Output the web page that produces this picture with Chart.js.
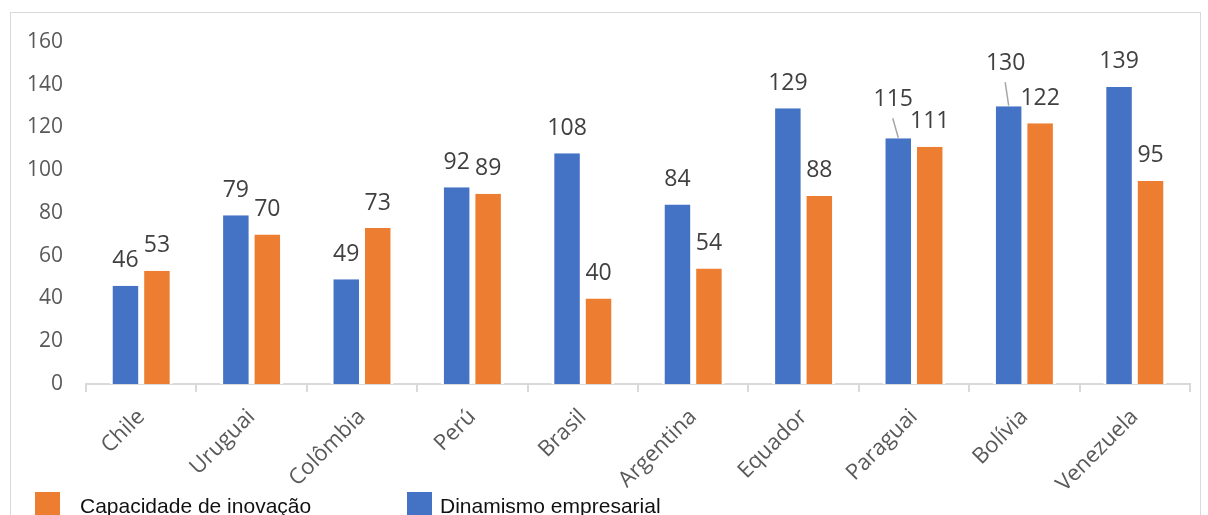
<!DOCTYPE html>
<html lang="pt">
<head>
<meta charset="utf-8">
<title>Dinamismo empresarial e capacidade de inovação</title>
<script src="https://cdn.jsdelivr.net/npm/chart.js@4.4.0/dist/chart.umd.min.js"></script>
<style>
    html, body {
        margin: 0;
        padding: 0;
        width: 1208px;
        height: 515px;
        overflow: hidden;
        background: #fff;
    }
    .frame {
        position: absolute;
        left: 10px;
        top: 12px;
        width: 1189px;
        height: 600px;
        border: 1px solid #d9d9d9;
    }
    .chart-box {
        position: absolute;
        left: 0;
        top: 0;
        width: 1208px;
        height: 515px;
    }
    .legend {
        position: absolute;
        top: 492px;
        font-family: "Liberation Sans", Arial, sans-serif;
        font-size: 21px;
        color: #111;
        white-space: nowrap;
    }
    .legend .swatch {
        position: absolute;
        left: 0;
        top: 0;
        width: 25px;
        height: 25px;
    }
    .legend .text {
        position: absolute;
        top: 2px;
    }
</style>
</head>
<body>
<div class="frame"></div>
<div class="chart-box"><canvas id="chart" width="1208" height="515"></canvas></div>
<div class="legend" style="left:35px"><span class="swatch" style="background:#ED7D31"></span><span class="text" style="left:45px">Capacidade de inovação</span></div>
<div class="legend" style="left:407px"><span class="swatch" style="background:#4472C4"></span><span class="text" style="left:33px">Dinamismo empresarial</span></div>
<script>
const countries = ['Chile', 'Uruguai', 'Colômbia', 'Perú', 'Brasil', 'Argentina', 'Equador', 'Paraguai', 'Bolívia', 'Venezuela'];
const dinamismo = [46, 79, 49, 92, 108, 84, 129, 115, 130, 139];
const capacidade = [53, 70, 73, 89, 40, 54, 88, 111, 122, 95];
const yMax = 160;
const yStep = 20;

const BLUE = '#4472C4';
const ORANGE = '#ED7D31';

// labels that were pulled away from their bar, drawn with a leader line
const movedLabels = {
    '0-7': { dx: -5, dy: -14 },
    '0-8': { dx: -3, dy: -18 }
};

const valueLabels = {
    id: 'valueLabels',
    afterDatasetsDraw(chart) {
        const ctx = chart.ctx;
        ctx.save();
        ctx.font = '23px "Open Sans", sans-serif';
        ctx.fillStyle = '#404040';
        ctx.textAlign = 'center';
        ctx.textBaseline = 'middle';
        chart.data.datasets.forEach((ds, di) => {
            const meta = chart.getDatasetMeta(di);
            meta.data.forEach((bar, i) => {
                const move = movedLabels[di + '-' + i];
                let lx = bar.x;
                let ly = bar.y - 25;
                if (move) {
                    lx += move.dx;
                    ly += move.dy;
                    ctx.save();
                    ctx.strokeStyle = '#a6a6a6';
                    ctx.lineWidth = 1.5;
                    ctx.beginPath();
                    ctx.moveTo(lx - 0.5, ly + 19);
                    ctx.lineTo(bar.x, bar.y - 0.5);
                    ctx.stroke();
                    ctx.restore();
                }
                ctx.fillText(String(ds.data[i]), lx, ly);
            });
        });
        ctx.restore();
    }
};

new Chart(document.getElementById('chart'), {
    type: 'bar',
    data: {
        labels: countries,
        datasets: [
            {
                label: 'Dinamismo empresarial',
                data: dinamismo,
                backgroundColor: BLUE,
                borderColor: '#ffffff',
                borderWidth: { left: 3, right: 3, top: 0, bottom: 0 },
                borderSkipped: false
            },
            {
                label: 'Capacidade de inovação',
                data: capacidade,
                backgroundColor: ORANGE,
                borderColor: '#ffffff',
                borderWidth: { left: 3, right: 3, top: 0, bottom: 0 },
                borderSkipped: false
            }
        ]
    },
    options: {
        responsive: false,
        animation: false,
        events: [],
        layout: { padding: { top: 42, right: 18, left: 0, bottom: 0 } },
        datasets: {
            bar: { categoryPercentage: 0.57, barPercentage: 1 }
        },
        plugins: {
            legend: { display: false },
            tooltip: { enabled: false }
        },
        scales: {
            x: {
                grid: {
                    offset: true,
                    drawOnChartArea: false,
                    color: '#d9d9d9',
                    lineWidth: 2,
                    tickLength: 8
                },
                border: { color: '#d9d9d9', width: 2 },
                ticks: {
                    minRotation: 45,
                    maxRotation: 45,
                    padding: 12,
                    color: '#595959',
                    font: { family: '"Open Sans", sans-serif', size: 22 }
                },
                afterFit(axis) { axis.height = 131; }
            },
            y: {
                min: 0,
                max: yMax,
                grid: { display: false },
                border: { display: false },
                ticks: {
                    stepSize: yStep,
                    padding: 15,
                    color: '#595959',
                    font: { family: '"Open Sans", sans-serif', size: 21 }
                },
                afterFit(axis) { axis.width = 86; }
            }
        }
    },
    plugins: [valueLabels]
});
</script>
</body>
</html>
